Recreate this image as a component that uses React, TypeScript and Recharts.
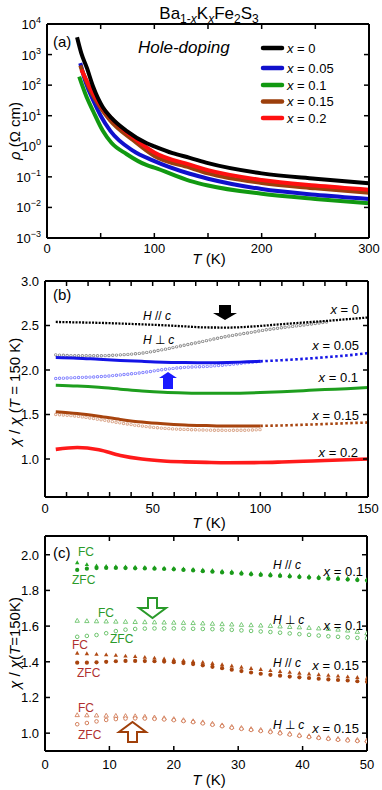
import React from "react";
import { ComposedChart, Line, XAxis, YAxis } from "recharts";

const FONT = "'Liberation Sans', Arial, Helvetica, sans-serif";

// ---------- (a) resistivity vs T (log scale) ----------
const aT0 = [28, 32, 37, 43, 52, 60, 74, 93, 100, 117, 133, 150, 200, 250, 300];
const aRho0 = [3700, 1100, 380, 89, 19, 8.5, 3.2, 1.26, 1.0, 0.6, 0.42, 0.28, 0.13, 0.087, 0.062];
const aT005 = [31, 36, 43, 50, 59, 80, 99, 133, 150, 200, 250, 300];
const aRho005 = [525, 125, 32, 10, 3.2, 0.72, 0.34, 0.126, 0.087, 0.04, 0.026, 0.019];
const aT01 = [30, 37, 43, 52, 60, 74, 93, 100, 133, 150, 200, 250, 300];
const aRho01 = [190, 40, 14, 3.2, 1.3, 0.56, 0.24, 0.2, 0.074, 0.052, 0.028, 0.019, 0.0138];
const aT015 = [31, 40, 50, 59, 80, 100, 133, 150, 200, 250, 300];
const aRho015 = [440, 71, 18, 6.9, 1.6, 0.48, 0.2, 0.13, 0.063, 0.042, 0.03];
const aT02 = [32, 40, 50, 59, 80, 100, 133, 150, 200, 250, 300];
const aRho02 = [320, 85, 22, 8.9, 2.0, 0.63, 0.25, 0.166, 0.079, 0.052, 0.038];

// ---------- (b) chi / chi(150 K), 0-150 K ----------
const bT = [5, 15, 25, 35, 45, 55, 65, 75, 85, 100, 110, 120, 130, 140, 150];
const bX0par = [2.54, 2.535, 2.53, 2.522, 2.513, 2.503, 2.49, 2.478, 2.477, 2.495, 2.515, 2.533, 2.55, 2.57, 2.59];
const bX005par = [2.14, 2.133, 2.12, 2.108, 2.097, 2.088, 2.084, 2.082, 2.085, 2.098, 2.11, 2.125, 2.143, 2.163, 2.19];
const bX01 = [1.83, 1.82, 1.805, 1.785, 1.765, 1.75, 1.742, 1.738, 1.738, 1.746, 1.756, 1.768, 1.78, 1.79, 1.803];
const bX015par = [1.53, 1.51, 1.48, 1.445, 1.415, 1.395, 1.382, 1.375, 1.37, 1.372, 1.377, 1.385, 1.393, 1.402, 1.41];
const bX02 = [1.108, 1.13, 1.105, 1.04, 1.0, 0.978, 0.968, 0.962, 0.958, 0.96, 0.966, 0.974, 0.983, 0.992, 1.0];
const bT0perp = [5, 15, 25, 35, 45, 55, 65, 75, 85, 95, 105, 115, 125, 131];
const bX0perp = [2.17, 2.16, 2.16, 2.17, 2.19, 2.23, 2.28, 2.33, 2.38, 2.42, 2.46, 2.49, 2.52, 2.54];
const bTperp = [5, 15, 25, 35, 45, 55, 65, 75, 85, 95, 100];
const bX005perp = [1.905, 1.915, 1.925, 1.945, 1.97, 2.005, 2.03, 2.04, 2.06, 2.085, 2.095];
const bX015perp = [1.5, 1.48, 1.445, 1.405, 1.37, 1.345, 1.332, 1.325, 1.322, 1.325, 1.33];

// ---------- (c) FC / ZFC, 0-50 K ----------
const cT = [5, 6.5, 8, 9.5, 11, 12.5, 14, 15.5, 17, 18.5, 20, 21.5, 23, 24.5, 26, 27.5, 29, 30.5, 32, 33.5, 35, 36.5, 38, 39.5, 41, 42.5, 44, 45.5, 47, 48.5, 50];
const cG_parZFC = [1.915, 1.922, 1.925, 1.926, 1.926, 1.925, 1.924, 1.923, 1.922, 1.92, 1.918, 1.915, 1.912, 1.908, 1.905, 1.901, 1.898, 1.894, 1.89, 1.887, 1.884, 1.881, 1.878, 1.875, 1.872, 1.869, 1.866, 1.864, 1.861, 1.858, 1.855];
const cG_parFC = [1.955, 1.945, 1.938, 1.935, 1.933, 1.932, 1.93, 1.929, 1.927, 1.925, 1.924, 1.921, 1.918, 1.915, 1.912, 1.908, 1.905, 1.901, 1.897, 1.894, 1.891, 1.888, 1.885, 1.882, 1.879, 1.876, 1.873, 1.871, 1.868, 1.865, 1.862];
const cG_perpFC = [1.63, 1.628, 1.627, 1.626, 1.625, 1.624, 1.623, 1.622, 1.621, 1.62, 1.619, 1.618, 1.617, 1.615, 1.613, 1.611, 1.609, 1.607, 1.605, 1.603, 1.601, 1.598, 1.595, 1.593, 1.59, 1.587, 1.584, 1.58, 1.575, 1.568, 1.56];
const cG_perpZFC = [1.54, 1.545, 1.55, 1.56, 1.572, 1.58, 1.584, 1.586, 1.587, 1.587, 1.587, 1.586, 1.585, 1.584, 1.583, 1.581, 1.579, 1.576, 1.573, 1.57, 1.567, 1.563, 1.559, 1.555, 1.551, 1.547, 1.543, 1.54, 1.537, 1.534, 1.532];
const cB_parFC = [1.448, 1.445, 1.442, 1.439, 1.436, 1.432, 1.429, 1.425, 1.421, 1.416, 1.412, 1.407, 1.402, 1.397, 1.391, 1.384, 1.377, 1.37, 1.363, 1.357, 1.351, 1.346, 1.341, 1.336, 1.332, 1.328, 1.324, 1.32, 1.316, 1.312, 1.308];
const cB_parZFC = [1.395, 1.395, 1.397, 1.4, 1.403, 1.405, 1.405, 1.404, 1.403, 1.401, 1.398, 1.393, 1.387, 1.38, 1.372, 1.364, 1.356, 1.348, 1.34, 1.333, 1.327, 1.322, 1.317, 1.313, 1.309, 1.305, 1.301, 1.298, 1.295, 1.291, 1.288];
const cB_perpFC = [1.101, 1.1, 1.099, 1.098, 1.097, 1.096, 1.095, 1.092, 1.088, 1.084, 1.079, 1.073, 1.067, 1.061, 1.053, 1.044, 1.035, 1.029, 1.023, 1.018, 1.013, 1.005, 0.997, 0.989, 0.983, 0.977, 0.972, 0.968, 0.965, 0.962, 0.96];
const cB_perpZFC = [1.05, 1.057, 1.066, 1.074, 1.079, 1.082, 1.083, 1.082, 1.08, 1.077, 1.073, 1.068, 1.062, 1.055, 1.047, 1.039, 1.03, 1.024, 1.018, 1.012, 1.006, 0.999, 0.992, 0.985, 0.978, 0.973, 0.968, 0.963, 0.959, 0.956, 0.953];

const rows = (t: number[], v: number[]) => t.map((T, i) => ({ T, v: v[i] }));

type Side = "left" | "right" | "top" | "bottom";

function tickFactory(side: Side, labels: number[], fmt: (v: number) => React.ReactNode, off = 15) {
  return (props: any) => {
    const { x, y, payload } = props;
    const v = payload.value as number;
    const L = 5;
    const show = labels.some((l) => Math.abs(l - v) < 1e-9);
    let ln: React.ReactNode = null;
    if (side === "left") ln = <line x1={x} y1={y} x2={x + L} y2={y} stroke="#000" strokeWidth={1.5} />;
    if (side === "right") ln = <line x1={x - L} y1={y} x2={x} y2={y} stroke="#000" strokeWidth={1.5} />;
    if (side === "top") ln = <line x1={x} y1={y} x2={x} y2={y + L} stroke="#000" strokeWidth={1.5} />;
    if (side === "bottom") ln = <line x1={x} y1={y - L} x2={x} y2={y} stroke="#000" strokeWidth={1.5} />;
    return (
      <g>
        {ln}
        {show && side === "left" && (
          <text x={x - 6} y={y + 5} textAnchor="end" fontSize={13} fontFamily={FONT} fill="#000">
            {fmt(v)}
          </text>
        )}
        {show && side === "bottom" && (
          <text x={x} y={y + off} textAnchor="middle" fontSize={13} fontFamily={FONT} fill="#000">
            {fmt(v)}
          </text>
        )}
      </g>
    );
  };
}

const fmtPow = (v: number) => {
  const e = Math.round(Math.log10(v));
  return (
    <>
      <tspan>10</tspan>
      <tspan dy={-6} fontSize={9}>{e < 0 ? `\u2212${-e}` : `${e}`}</tspan>
    </>
  );
};
const fmtInt = (v: number) => `${v}`;
const fmt1 = (v: number) => v.toFixed(1);

function axes(o: {
  xDomain: [number, number];
  xTicks: number[];
  xLabels: number[];
  xOff: number;
  yDomain: [number, number];
  yTicks: number[];
  yFmt: (v: number) => React.ReactNode;
  log?: boolean;
  left: number;
  right: number;
  top: number;
  bottom: number;
}) {
  const common = {
    axisLine: { stroke: "#000", strokeWidth: 2 },
    tickLine: false,
    tickSize: 0,
    tickMargin: 0,
    interval: 0 as const,
    allowDataOverflow: true,
  };
  return [
    <XAxis key="xb" xAxisId="b" orientation="bottom" type="number" dataKey="T" domain={o.xDomain} ticks={o.xTicks} height={o.bottom} tick={tickFactory("bottom", o.xLabels, fmtInt, o.xOff)} {...common} />,
    <XAxis key="xt" xAxisId="t" orientation="top" type="number" dataKey="T" domain={o.xDomain} ticks={o.xTicks} height={o.top} tick={tickFactory("top", [], fmtInt)} {...common} />,
    <YAxis key="yl" yAxisId="l" orientation="left" type="number" dataKey="v" domain={o.yDomain} ticks={o.yTicks} width={o.left} scale={o.log ? "log" : "linear"} tick={tickFactory("left", o.yTicks, o.yFmt)} {...common} />,
    <YAxis key="yr" yAxisId="r" orientation="right" type="number" dataKey="v" domain={o.yDomain} ticks={o.yTicks} width={o.right} scale={o.log ? "log" : "linear"} tick={tickFactory("right", [], o.yFmt)} {...common} />,
  ];
}

const M0 = { top: 0, right: 0, bottom: 0, left: 0 };

function PanelA() {
  const series = [
    { t: aT01, r: aRho01, c: "#119911" },
    { t: aT005, r: aRho005, c: "#1010cc" },
    { t: aT015, r: aRho015, c: "#9c3f0c" },
    { t: aT02, r: aRho02, c: "#ff1010" },
    { t: aT0, r: aRho0, c: "#000000" },
  ];
  return (
    <ComposedChart width={382} height={260} margin={M0}>
      {axes({
        xDomain: [0, 300],
        xTicks: [0, 50, 100, 150, 200, 250, 300],
        xLabels: [0, 100, 200, 300],
        xOff: 15,
        yDomain: [0.001, 10000],
        yTicks: [0.001, 0.01, 0.1, 1, 10, 100, 1000, 10000],
        yFmt: fmtPow,
        log: true,
        left: 47,
        right: 13,
        top: 24,
        bottom: 22,
      })}
      {series.map((s, i) => (
        <Line key={i} xAxisId="b" yAxisId="l" data={rows(s.t, s.r)} dataKey="v" type="monotone" stroke={s.c} strokeWidth={4} dot={false} activeDot={false} isAnimationActive={false} />
      ))}
    </ComposedChart>
  );
}

function rings(key: string, data: any[], color: string) {
  return [
    <Line key={key + "o"} xAxisId="b" yAxisId="l" data={data} dataKey="v" type="monotone" stroke={color} strokeWidth={3.4} strokeDasharray="0 3.8" strokeLinecap="round" dot={false} activeDot={false} isAnimationActive={false} />,
    <Line key={key + "i"} xAxisId="b" yAxisId="l" data={data} dataKey="v" type="monotone" stroke="#ffffff" strokeWidth={1.6} strokeDasharray="0 3.8" strokeLinecap="round" dot={false} activeDot={false} isAnimationActive={false} />,
  ];
}

function PanelB() {
  const blue = rows(bT, bX005par);
  const brown = rows(bT, bX015par);
  const ln = (key: string, data: any[], color: string, w: number, dash?: string) => (
    <Line key={key} xAxisId="b" yAxisId="l" data={data} dataKey="v" type="monotone" stroke={color} strokeWidth={w} strokeDasharray={dash} dot={false} activeDot={false} isAnimationActive={false} />
  );
  return (
    <ComposedChart width={382} height={270} margin={M0}>
      {axes({
        xDomain: [0, 150],
        xTicks: [0, 10, 20, 30, 40, 50, 60, 70, 80, 90, 100, 110, 120, 130, 140, 150],
        xLabels: [0, 50, 100, 150],
        xOff: 16,
        yDomain: [0.573, 3.0],
        yTicks: [1.0, 1.5, 2.0, 2.5, 3.0],
        yFmt: fmt1,
        left: 45,
        right: 14,
        top: 21,
        bottom: 33,
      })}
      {rings("g0", rows(bT0perp, bX0perp), "#8c8c8c")}
      {ln("k0", rows(bT, bX0par), "#000000", 2.3, "2 1.3")}
      {rings("b5", rows(bTperp, bX005perp), "#8080ff")}
      {ln("b5s", blue.filter((r) => r.T <= 100), "#1414e6", 3)}
      {ln("b5d", blue.filter((r) => r.T >= 100), "#1414e6", 2.6, "2.5 2.5")}
      {ln("g1", rows(bT, bX01), "#1e9e1e", 3)}
      {rings("n5", rows(bTperp, bX015perp), "#d9a488")}
      {ln("n5s", brown.filter((r) => r.T <= 100), "#a8440e", 3)}
      {ln("n5d", brown.filter((r) => r.T >= 100), "#a8440e", 2.6, "2.5 2.5")}
      {ln("r2", rows(bT, bX02), "#ff1a1a", 3.6)}
    </ComposedChart>
  );
}

const filledCircle = (c: string) => (p: any) => <circle key={p.index} cx={p.cx} cy={p.cy} r={2.1} fill={c} />;
const openCircle = (c: string) => (p: any) => <circle key={p.index} cx={p.cx} cy={p.cy} r={1.8} fill="#fff" stroke={c} strokeWidth={1} />;
const triPath = (x: number, y: number) => `M${x},${y - 2.4}L${x + 2.2},${y + 1.5}L${x - 2.2},${y + 1.5}Z`;
const filledTri = (c: string) => (p: any) => <path key={p.index} d={triPath(p.cx, p.cy)} fill={c} />;
const openTri = (c: string) => (p: any) => <path key={p.index} d={triPath(p.cx, p.cy)} fill="#fff" stroke={c} strokeWidth={0.9} />;

function PanelC() {
  const sc = (key: string, v: number[], dot: (p: any) => React.ReactElement) => (
    <Line key={key} xAxisId="b" yAxisId="l" data={rows(cT, v)} dataKey="v" stroke="none" dot={dot} activeDot={false} isAnimationActive={false} />
  );
  return (
    <ComposedChart width={382} height={260} margin={M0}>
      {axes({
        xDomain: [0, 50],
        xTicks: [0, 10, 20, 30, 40, 50],
        xLabels: [0, 10, 20, 30, 40, 50],
        xOff: 18,
        yDomain: [0.9, 2.105],
        yTicks: [1.0, 1.2, 1.4, 1.6, 1.8, 2.0],
        yFmt: fmt1,
        left: 45,
        right: 15,
        top: 6,
        bottom: 39,
      })}
      {sc("gpf", cG_parFC, filledTri("#22a822"))}
      {sc("gpz", cG_parZFC, filledCircle("#1a9a1a"))}
      {sc("gqf", cG_perpFC, openTri("#6cc46c"))}
      {sc("gqz", cG_perpZFC, openCircle("#6cc46c"))}
      {sc("bpf", cB_parFC, filledTri("#b04a14"))}
      {sc("bpz", cB_parZFC, filledCircle("#a8440e"))}
      {sc("bqf", cB_perpFC, openTri("#d4805c"))}
      {sc("bqz", cB_perpZFC, openCircle("#d4805c"))}
    </ComposedChart>
  );
}

const I = ({ children }: { children: React.ReactNode }) => <tspan fontStyle="italic">{children}</tspan>;

function XEq({ x, y, v }: { x: number; y: number; v: string }) {
  return (
    <text x={x} y={y} textAnchor="end" fontSize={13}>
      <I>x</I> = {v}
    </text>
  );
}

function HLabel({ x, y, perp }: { x: number; y: number; perp?: boolean }) {
  return (
    <text x={x} y={y} fontSize={12}>
      <I>H</I> {perp ? "\u22a5" : "//"} <I>c</I>
    </text>
  );
}

function Overlay() {
  const legend = [
    { c: "#000000", t: "0", y: 48 },
    { c: "#1010cc", t: "0.05", y: 68 },
    { c: "#119911", t: "0.1", y: 85 },
    { c: "#9c3f0c", t: "0.15", y: 101.5 },
    { c: "#ff1010", t: "0.2", y: 118 },
  ];
  const green = "#2a9a2a";
  const rust = "#b03030";
  return (
    <svg width={382} height={790} style={{ position: "absolute", left: 0, top: 0, pointerEvents: "none" }} fontFamily={FONT} fill="#000">
      {/* title */}
      <text x={209} y={19} textAnchor="middle" fontSize={17}>
        Ba<tspan dy={4} fontSize={12}>1-</tspan>
        <tspan fontSize={12} fontStyle="italic">x</tspan>
        <tspan dy={-4}>K</tspan>
        <tspan dy={4} fontSize={12} fontStyle="italic">x</tspan>
        <tspan dy={-4}>Fe</tspan>
        <tspan dy={4} fontSize={12}>2</tspan>
        <tspan dy={-4}>S</tspan>
        <tspan dy={4} fontSize={12}>3</tspan>
      </text>

      {/* panel a */}
      <text x={53} y={47} fontSize={15}>(a)</text>
      <text x={138} y={53} fontSize={17} fontStyle="italic">Hole-doping</text>
      {legend.map((l) => (
        <g key={l.t}>
          <line x1={263} x2={282} y1={l.y} y2={l.y} stroke={l.c} strokeWidth={4.5} strokeLinecap="round" />
          <text x={287} y={l.y + 4.5} fontSize={13}>
            <I>x</I> = {l.t}
          </text>
        </g>
      ))}
      <text transform="rotate(-90)" x={-131} y={20} textAnchor="middle" fontSize={15}>
        <I>ρ</I> (Ω cm)
      </text>
      <text x={209} y={264} textAnchor="middle" fontSize={15}>
        <I>T</I> (K)
      </text>

      {/* panel b */}
      <text x={53} y={300} fontSize={15}>(b)</text>
      <HLabel x={143} y={320} />
      <HLabel x={143} y={344} perp />
      <path d="M219,305 H231 V313 H237 L225,320 L213,313 H219 Z" fill="#000" />
      <path d="M163,389 H173 V378 H177 L168,372 L159,378 H163 Z" fill="#1a1aff" />
      <XEq x={359} y={314} v="0" />
      <XEq x={359} y={350} v="0.05" />
      <XEq x={358} y={382} v="0.1" />
      <XEq x={359} y={420} v="0.15" />
      <XEq x={358} y={457} v="0.2" />
      <text transform="rotate(-90)" x={-392} y={20} textAnchor="middle" fontSize={15}>
        <I>χ</I> / <I>χ</I> (<I>T</I> = 150 K)
      </text>
      <text x={209} y={528} textAnchor="middle" fontSize={15}>
        <I>T</I> (K)
      </text>

      {/* panel c */}
      <text x={53} y={558} fontSize={15}>(c)</text>
      <text x={78} y={556} fontSize={12} fill={green}>FC</text>
      <text x={72} y={584} fontSize={12} fill={green}>ZFC</text>
      <HLabel x={273} y={569} />
      <XEq x={363} y={576} v="0.1" />
      <path d="M148,598 H157 V608 H166 L152.5,618 L139,608 H148 Z" fill="#fff" stroke="#2a9a2a" strokeWidth={2} />
      <text x={98} y={617} fontSize={12} fill={green}>FC</text>
      <text x={110} y={643} fontSize={12} fill={green}>ZFC</text>
      <HLabel x={273} y={624} perp />
      <XEq x={363} y={630} v="0.1" />
      <text x={72} y={649} fontSize={12} fill={rust}>FC</text>
      <text x={77} y={677} fontSize={12} fill={rust}>ZFC</text>
      <HLabel x={273} y={667} />
      <XEq x={359} y={670} v="0.15" />
      <text x={78} y={712} fontSize={12} fill={rust}>FC</text>
      <text x={78} y={739} fontSize={12} fill={rust}>ZFC</text>
      <HLabel x={273} y={729} perp />
      <XEq x={359} y={733} v="0.15" />
      <path d="M128,742 H137 V732 H146 L132.5,722 L119,732 H128 Z" fill="#fff" stroke="#a0400a" strokeWidth={2} />
      <text transform="rotate(-90)" x={-643} y={20} textAnchor="middle" fontSize={15}>
        <I>χ</I> / <I>χ</I>(<I>T</I>=150K)
      </text>
      <text x={209} y={785} textAnchor="middle" fontSize={15}>
        <I>T</I> (K)
      </text>
    </svg>
  );
}

export default function App() {
  return (
    <div style={{ position: "absolute", left: 0, top: 0, width: 382, height: 790, background: "#fff", fontFamily: FONT }}>
      <div style={{ position: "absolute", left: 0, top: 0 }}>
        <PanelA />
      </div>
      <div style={{ position: "absolute", left: 0, top: 260 }}>
        <PanelB />
      </div>
      <div style={{ position: "absolute", left: 0, top: 530 }}>
        <PanelC />
      </div>
      <Overlay />
    </div>
  );
}
